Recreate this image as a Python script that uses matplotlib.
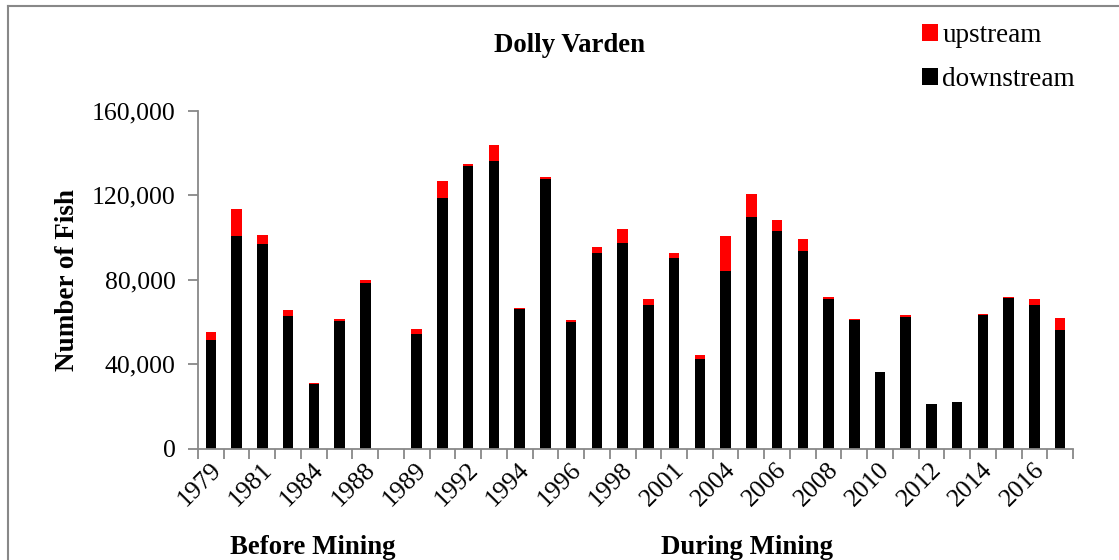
import matplotlib
matplotlib.use("Agg")
import matplotlib.pyplot as plt
import matplotlib.transforms as mtransforms
import numpy as np
from matplotlib.patches import Patch
from matplotlib.lines import Line2D

plt.rcParams['font.family'] = ['Liberation Serif', 'DejaVu Serif']

# Survey years (blank slot separates the pre-mining and mining periods)
years = ['1979', '1980', '1981', '1982', '1984', '1986', '1988', '',
         '1989', '1990', '1992', '1993', '1994', '1995', '1996', '1997',
         '1998', '2000', '2001', '2002', '2004', '2005', '2006', '2007',
         '2008', '2009', '2010', '2011', '2012', '2013', '2014', '2015',
         '2016', '2017']

# Downstream counts
downstream = [51500, 100700, 96900, 62900, 30500, 60300, 78500, 0,
              54300, 118700, 133900, 136100, 66000, 128000, 59900, 92900,
              97400, 67900, 90300, 42500, 84200, 109900, 103300, 93600,
              70900, 60700, 36200, 62400, 21100, 22000, 63200, 71400,
              68100, 56100]

# Upstream counts
upstream = [3600, 12700, 4200, 2700, 500, 1000, 1600, 0,
            2300, 7900, 1100, 7900, 800, 500, 1100, 2500,
            6500, 2900, 2200, 1800, 16400, 10700, 4900, 5600,
            700, 500, 300, 800, 0, 200, 800, 300,
            2700, 6000]

tick_years = years[::2]

W, H = 1119, 560
fig = plt.figure(figsize=(W / 100, H / 100), dpi=100)
ax = fig.add_axes([198 / W, 1 - 448.5 / H, (1073 - 198) / W, (448.5 - 111) / H])

x = np.arange(len(years))
bw = 0.41
ax.bar(x, downstream, width=bw, color='black', zorder=2)
ax.bar(x, upstream, width=bw, bottom=downstream, color='#ff0000', zorder=2)

ax.set_xlim(-0.5, len(years) - 0.5)
ax.set_ylim(0, 160000)

grey = '#888888'
for side in ['top', 'right']:
    ax.spines[side].set_visible(False)
for side in ['left', 'bottom']:
    ax.spines[side].set_color(grey)
    ax.spines[side].set_linewidth(1.3)

ax.set_yticks([0, 40000, 80000, 120000, 160000])
ax.set_yticklabels(['0', '40,000', '80,000', '120,000', '160,000'], fontsize=18.5)
ax.tick_params(axis='y', length=7, width=1.3, color=grey, pad=9)

ax.set_xticks(x[::2])
ax.set_xticklabels(tick_years, fontsize=18.5, rotation=45, ha='right',
                   va='center', rotation_mode='anchor')
ax.tick_params(axis='x', which='major', length=0, pad=16)
shift = mtransforms.ScaledTranslation(6.5 / 100, 4 / 100, fig.dpi_scale_trans)
for lab in ax.get_xticklabels():
    lab.set_transform(lab.get_transform() + shift)
ax.set_xticks(np.arange(-0.5, len(years)), minor=True)
ax.tick_params(axis='x', which='minor', length=7, width=1.3, color=grey)

fig.text(68 / W, 1 - 280 / H, 'Number of Fish', fontsize=19.5, fontweight='bold',
         rotation=90, ha='center', va='center')

fig.text(569 / W, 1 - 45 / H, 'Dolly Varden', fontsize=19.3, fontweight='bold',
         ha='center', va='center')
fig.text(313 / W, 1 - 547 / H, 'Before Mining', fontsize=19.3, fontweight='bold',
         ha='center', va='center')
fig.text(747 / W, 1 - 547 / H, 'During Mining', fontsize=19.3, fontweight='bold',
         ha='center', va='center')

handles = [Patch(facecolor='#ff0000', edgecolor='none'),
           Patch(facecolor='black', edgecolor='none')]
fig.legend(handles, ['upstream', 'downstream'], loc='upper left',
           bbox_to_anchor=(922 / W, 1 - 23 / H), frameon=False, fontsize=19.5,
           handlelength=0.6, handleheight=0.6, handletextpad=0.15,
           labelspacing=0.7, borderpad=0, borderaxespad=0)

# Outer frame
fig.add_artist(Line2D([8 / W, 8 / W], [-0.1, 1 - 6 / H], transform=fig.transFigure,
                      color=grey, lw=1.5))
fig.add_artist(Line2D([8 / W, 1.1], [1 - 6 / H, 1 - 6 / H], transform=fig.transFigure,
                      color=grey, lw=1.5))

fig.savefig('out.png', dpi=100)
